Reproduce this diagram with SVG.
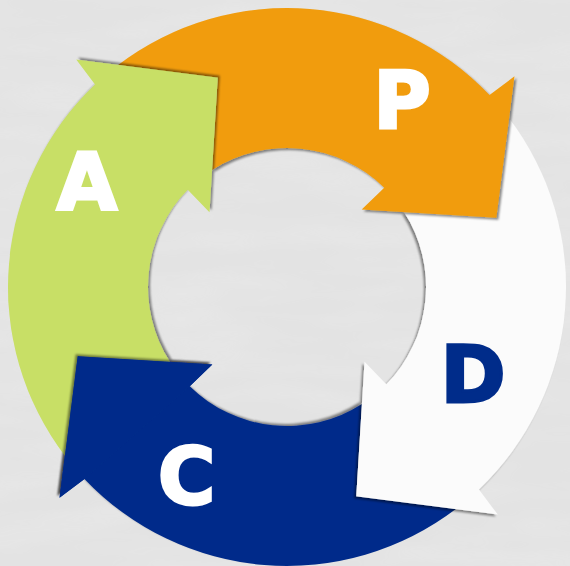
<svg xmlns="http://www.w3.org/2000/svg" xmlns:xlink="http://www.w3.org/1999/xlink" width="570" height="566" viewBox="0 0 570 566">
  <style>
    .p { fill: #F19C0B; }
    .d { fill: #FBFBFB; }
    .c { fill: #002C8A; }
    .a { fill: #C8DF66; }
    .lbl { font-family: "DejaVu Sans", "Liberation Sans", sans-serif; font-weight: bold; font-size: 78px; text-anchor: middle; stroke-width: 3px; stroke-linejoin: miter; }
    .wl { fill: #FFFFFF; stroke: #FFFFFF; }
    .nl { fill: #002C8A; stroke: #002C8A; }
  </style>
  <defs>
    <filter id="sh" x="-20%" y="-20%" width="140%" height="140%">
      <feDropShadow dx="2" dy="2" stdDeviation="1.2" flood-color="#000" flood-opacity="0.45"/>
    </filter>
    <filter id="tex" x="0" y="0" width="100%" height="100%">
      <feTurbulence type="fractalNoise" baseFrequency="0.008 0.04" numOctaves="3" seed="4"/>
      <feColorMatrix type="matrix" values="0 0 0 0 1  0 0 0 0 1  0 0 0 0 1  0 0 0 0.35 -0.1"/>
    </filter>
    <path id="arrow" d="M118.15 64.89 A279 279 0 0 1 489.55 95.12 L514.46 76.37 L496.35 217.77 L361.68 209.40 L384.25 187.69 A139 139 0 0 0 212.03 169.95 L217.77 77.65 Z"/>
    <path id="head" d="M489.55 95.12 L514.46 76.37 L496.35 217.77 L361.68 209.40 L384.25 187.69 Z"/>
  </defs>

  <rect width="570" height="566" fill="#E3E3E3"/>
  <rect width="570" height="566" filter="url(#tex)" opacity="0.6"/>

  <g id="cycle">
    <g id="node-C">
      <g transform="rotate(180 287 287)"><use href="#arrow" class="c" filter="url(#sh)"/></g>
      <text class="lbl wl" x="186.5" y="504" >C</text>
    </g>
    <g id="node-D">
      <g transform="rotate(90 287 287)"><use href="#arrow" class="d" filter="url(#sh)"/></g>
      <text class="lbl nl" x="473" y="401.5">D</text>
    </g>
    <g id="node-P">
      <use href="#arrow" class="p" filter="url(#sh)"/>
      <text class="lbl wl" x="402" y="127.5">P</text>
    </g>
    <g id="node-A">
      <g transform="rotate(270 287 287)"><use href="#arrow" class="a" filter="url(#sh)"/></g>
      <text class="lbl wl" x="87" y="208.5">A</text>
    </g>
    <g id="node-C-head">
      <g transform="rotate(180 287 287)"><use href="#head" class="c" filter="url(#sh)"/></g>
    </g>
  </g>
</svg>
